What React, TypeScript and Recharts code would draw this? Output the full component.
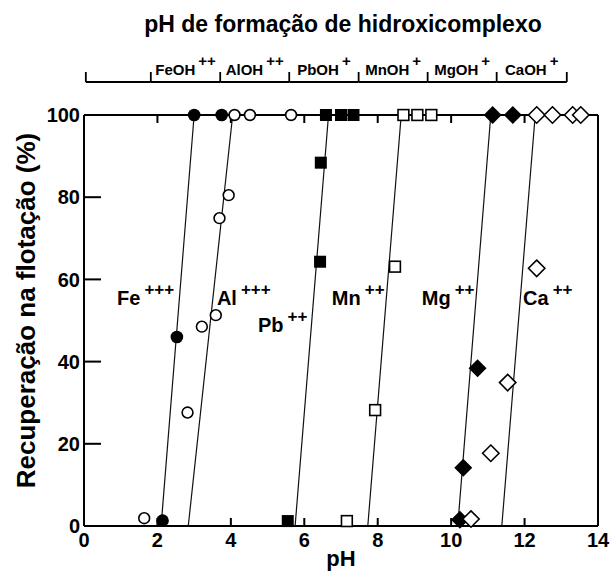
import React from 'react';
import { ComposedChart, Scatter, XAxis, YAxis } from 'recharts';

const FONT = '"Liberation Sans", Arial, Helvetica, sans-serif';

// axis ticks
const phTicks = [0, 2, 4, 6, 8, 10, 12, 14];
const recTicks = [0, 20, 40, 60, 80, 100];

// measured points (pH, recovery %)
const feData = [
  { x: 2.14, y: 1.3 },
  { x: 2.53, y: 46 },
  { x: 3.0, y: 100 },
  { x: 3.75, y: 100 },
];
const alData = [
  { x: 1.64, y: 1.9 },
  { x: 2.82, y: 27.6 },
  { x: 3.21, y: 48.5 },
  { x: 3.59, y: 51.3 },
  { x: 3.69, y: 74.9 },
  { x: 3.94, y: 80.5 },
  { x: 4.1, y: 100 },
  { x: 4.52, y: 100 },
  { x: 5.64, y: 100 },
];
const pbData = [
  { x: 5.55, y: 1.2 },
  { x: 6.43, y: 64.3 },
  { x: 6.45, y: 88.4 },
  { x: 6.59, y: 100 },
  { x: 7.0, y: 100 },
  { x: 7.34, y: 100 },
];
const mnData = [
  { x: 7.16, y: 1.2 },
  { x: 7.93, y: 28.2 },
  { x: 8.47, y: 63.1 },
  { x: 8.7, y: 100 },
  { x: 9.08, y: 100 },
  { x: 9.46, y: 100 },
];
const mgData = [
  { x: 10.24, y: 1.5 },
  { x: 10.33, y: 14.2 },
  { x: 10.72, y: 38.4 },
  { x: 11.13, y: 100 },
  { x: 11.68, y: 100 },
];
const caData = [
  { x: 10.54, y: 1.7 },
  { x: 11.08, y: 17.7 },
  { x: 11.54, y: 34.9 },
  { x: 12.33, y: 62.7 },
  { x: 12.33, y: 100 },
  { x: 12.76, y: 100 },
  { x: 13.31, y: 100 },
  { x: 13.53, y: 100 },
];

// fitted lines (pH at 0 % and at 100 %)
const feFit = [{ x: 2.1, y: 0 }, { x: 3.0, y: 100 }];
const alFit = [{ x: 2.84, y: 0 }, { x: 4.05, y: 100 }];
const pbFit = [{ x: 5.75, y: 0 }, { x: 6.66, y: 100 }];
const mnFit = [{ x: 7.73, y: 0 }, { x: 8.64, y: 100 }];
const mgFit = [{ x: 10.18, y: 0 }, { x: 11.08, y: 100 }];
const caFit = [{ x: 11.38, y: 0 }, { x: 12.29, y: 100 }];

// hydroxy-complex formation scale
const hydroBounds = [0.05, 1.82, 3.71, 5.59, 7.48, 9.36, 11.24, 13.15];
const hydroSpecies = ['', 'FeOH', 'AlOH', 'PbOH', 'MnOH', 'MgOH', 'CaOH'];
const hydroCharges = ['', '++', '++', '+', '+', '+', '+'];

// ion labels inside the plot
const ionNames = ['Fe', 'Al', 'Pb', 'Mn', 'Mg', 'Ca'];
const ionCharges = ['+++', '+++', '++', '++', '++', '++'];
const ionLabelPH = [0.9, 3.62, 4.74, 6.75, 9.2, 11.96];
const ionLabelRec = [53.8, 53.8, 47.2, 53.8, 53.8, 53.8];

const ionLabelData = ionNames.map((n, i) => ({
  x: ionLabelPH[i],
  y: ionLabelRec[i],
  name: n,
  charge: ionCharges[i],
}));

const PH_MIN = 0;
const PH_MAX = 14;
const REC_MIN = 0;
const REC_MAX = 100;
const PLOT_W_FALLBACK = 514;

// inward tick marks, placed through the chart scales
const leftTickMarks = recTicks.map((v) => ({ x: PH_MIN, y: v }));
const bottomTickMarks = phTicks.map((v) => ({ x: v, y: REC_MIN }));
const topTickMarks = phTicks.map((v) => ({ x: v, y: REC_MAX }));

// anchors so that the extra axes get a scale
const topAnchor = phTicks.map((v) => ({ x: v, y: REC_MAX }));
const hydroAnchor = hydroBounds.map((v) => ({ x: v, y: REC_MAX }));

const NoShape = () => <g />;
const FilledCircle = (p: any) => <circle cx={p.cx} cy={p.cy} r={6.3} fill="#000" />;
const OpenCircle = (p: any) => (
  <circle cx={p.cx} cy={p.cy} r={5.4} fill="#fff" stroke="#000" strokeWidth={1.6} />
);
const FilledSquare = (p: any) => (
  <rect x={p.cx - 6} y={p.cy - 6} width={12} height={12} fill="#000" />
);
const OpenSquare = (p: any) => (
  <rect x={p.cx - 5.4} y={p.cy - 5.4} width={10.8} height={10.8} fill="#fff" stroke="#000" strokeWidth={1.6} />
);
const diamondPts = (cx: number, cy: number, h: number) =>
  `${cx},${cy - h} ${cx + h},${cy} ${cx},${cy + h} ${cx - h},${cy}`;
const FilledDiamond = (p: any) => <polygon points={diamondPts(p.cx, p.cy, 9)} fill="#000" />;
const OpenDiamond = (p: any) => (
  <polygon points={diamondPts(p.cx, p.cy, 8.2)} fill="#fff" stroke="#000" strokeWidth={1.6} />
);

const LeftTickMark = (p: any) => <rect x={p.cx} y={p.cy - 1} width={17} height={2} fill="#000" />;
const BottomTickMark = (p: any) => <rect x={p.cx - 1} y={p.cy - 8} width={2} height={8} fill="#000" />;
const TopTickMark = (p: any) => <rect x={p.cx - 1} y={p.cy} width={2} height={8} fill="#000" />;

const IonLabel = (p: any) => {
  const d = p.payload || {};
  return (
    <text x={p.cx} y={p.cy} fontFamily={FONT} fontWeight="bold" fontSize={20} fill="#000" textAnchor="start">
      {d.name}
      <tspan dx={4} dy={-10} fontSize={17}>
        {d.charge}
      </tspan>
    </text>
  );
};

const HydroTick = (props: any) => {
  const { x, y, payload, width } = props;
  const w = typeof width === 'number' && width > 0 ? width : PLOT_W_FALLBACK;
  const k = w / (PH_MAX - PH_MIN);
  const i = hydroBounds.indexOf(payload.value);
  const next = hydroBounds[i + 1];
  const parts: any[] = [
    <line key="t" x1={x} x2={x} y1={y - 10} y2={y} stroke="#000" strokeWidth={1.8} />,
  ];
  if (i >= 0 && next !== undefined) {
    const nx = x + (next - payload.value) * k;
    parts.push(<line key="h" x1={x} x2={nx} y1={y} y2={y} stroke="#000" strokeWidth={1.8} />);
    if (hydroSpecies[i]) {
      parts.push(
        <text
          key="l"
          x={(x + nx) / 2}
          y={y - 7}
          textAnchor="middle"
          fontFamily={FONT}
          fontWeight="bold"
          fontSize={15}
          fill="#000"
        >
          {hydroSpecies[i]}
          <tspan dx={3} dy={-9}>
            {hydroCharges[i]}
          </tspan>
        </text>
      );
    }
  }
  return <g>{parts}</g>;
};

const TitleLabel = (props: any) => {
  const vb = props.viewBox || { x: 84, y: 42, width: 514, height: 40 };
  return (
    <text
      x={vb.x + vb.width / 2 + 2}
      y={vb.y - 10}
      textAnchor="middle"
      fontFamily={FONT}
      fontWeight="bold"
      fontSize={23}
      fill="#000"
    >
      pH de formação de hidroxicomplexo
    </text>
  );
};

const PhLabel = (props: any) => {
  const vb = props.viewBox || { x: 84, y: 526, width: 514, height: 46 };
  return (
    <text
      x={vb.x + vb.width / 2}
      y={vb.y + 40}
      textAnchor="middle"
      fontFamily={FONT}
      fontWeight="bold"
      fontSize={22}
      fill="#000"
    >
      pH
    </text>
  );
};

const RecLabel = (props: any) => {
  const vb = props.viewBox || { x: 0, y: 115, width: 84, height: 411 };
  const cx = vb.x + 35;
  const cy = vb.y + vb.height / 2 - 10;
  return (
    <text
      x={cx}
      y={cy}
      transform={`rotate(-90, ${cx}, ${cy})`}
      textAnchor="middle"
      fontFamily={FONT}
      fontWeight="bold"
      fontSize={26}
      fill="#000"
    >
      Recuperação na flotação (%)
    </text>
  );
};

const tickStyle = { fill: '#000', fontSize: 20, fontWeight: 'bold', fontFamily: FONT };
const lineStyle = { stroke: '#111', strokeWidth: 1.2 };

export default function App() {
  return (
    <div style={{ position: 'absolute', left: 0, top: 0, width: 616, height: 572, background: '#fff' }}>
      <ComposedChart width={616} height={572} margin={{ top: 42, right: 0, bottom: 0, left: 0 }}>
        <XAxis
          type="number"
          dataKey="x"
          domain={[PH_MIN, PH_MAX]}
          ticks={phTicks}
          interval={0}
          height={46}
          tickSize={0}
          tickMargin={7}
          tickLine={false}
          stroke="#000"
          strokeWidth={2}
          tick={tickStyle}
          label={{ content: PhLabel }}
        />
        <XAxis
          xAxisId="b_hydro"
          orientation="top"
          type="number"
          dataKey="x"
          domain={[PH_MIN, PH_MAX]}
          ticks={hydroBounds}
          interval={0}
          height={40}
          axisLine={false}
          tickLine={false}
          tickSize={0}
          tickMargin={0}
          tick={<HydroTick />}
          label={{ content: TitleLabel }}
        />
        <XAxis
          xAxisId="a_top"
          orientation="top"
          type="number"
          dataKey="x"
          domain={[PH_MIN, PH_MAX]}
          ticks={phTicks}
          interval={0}
          height={33}
          tickLine={false}
          tick={false}
          stroke="#000"
          strokeWidth={2}
        />
        <YAxis
          type="number"
          dataKey="y"
          domain={[REC_MIN, REC_MAX]}
          ticks={recTicks}
          interval={0}
          width={84}
          tickSize={0}
          tickMargin={4}
          tickLine={false}
          stroke="#000"
          strokeWidth={2}
          tick={tickStyle}
          label={{ content: RecLabel }}
        />
        <YAxis
          yAxisId="right"
          orientation="right"
          type="number"
          dataKey="y"
          domain={[REC_MIN, REC_MAX]}
          width={18}
          tick={false}
          tickLine={false}
          stroke="#000"
          strokeWidth={2}
        />

        <Scatter xAxisId="a_top" data={topAnchor} shape={NoShape} isAnimationActive={false} legendType="none" />
        <Scatter xAxisId="b_hydro" data={hydroAnchor} shape={NoShape} isAnimationActive={false} legendType="none" />
        <Scatter yAxisId="right" data={topAnchor} shape={NoShape} isAnimationActive={false} legendType="none" />

        <Scatter data={feFit} line={lineStyle} shape={NoShape} isAnimationActive={false} legendType="none" />
        <Scatter data={alFit} line={lineStyle} shape={NoShape} isAnimationActive={false} legendType="none" />
        <Scatter data={pbFit} line={lineStyle} shape={NoShape} isAnimationActive={false} legendType="none" />
        <Scatter data={mnFit} line={lineStyle} shape={NoShape} isAnimationActive={false} legendType="none" />
        <Scatter data={mgFit} line={lineStyle} shape={NoShape} isAnimationActive={false} legendType="none" />
        <Scatter data={caFit} line={lineStyle} shape={NoShape} isAnimationActive={false} legendType="none" />

        <Scatter data={leftTickMarks} shape={LeftTickMark} isAnimationActive={false} legendType="none" />
        <Scatter data={bottomTickMarks} shape={BottomTickMark} isAnimationActive={false} legendType="none" />
        <Scatter data={topTickMarks} shape={TopTickMark} isAnimationActive={false} legendType="none" />

        <Scatter data={feData} shape={FilledCircle} isAnimationActive={false} />
        <Scatter data={alData} shape={OpenCircle} isAnimationActive={false} />
        <Scatter data={pbData} shape={FilledSquare} isAnimationActive={false} />
        <Scatter data={mnData} shape={OpenSquare} isAnimationActive={false} />
        <Scatter data={mgData} shape={FilledDiamond} isAnimationActive={false} />
        <Scatter data={caData} shape={OpenDiamond} isAnimationActive={false} />

        <Scatter data={ionLabelData} shape={IonLabel} isAnimationActive={false} />
      </ComposedChart>
    </div>
  );
}
